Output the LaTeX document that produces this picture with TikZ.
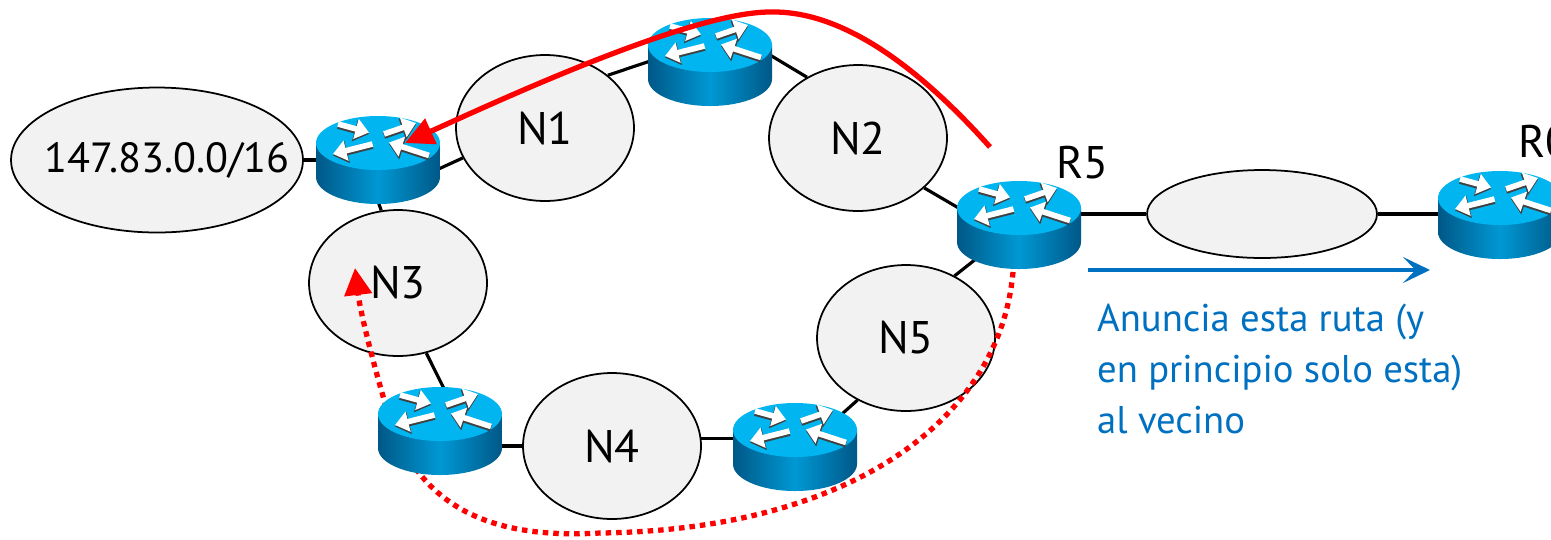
\documentclass[tikz,border=0pt]{standalone}
\usepackage{fontspec}
\setmainfont{PT Sans}
\usetikzlibrary{arrows.meta,calc,backgrounds,shapes.geometric}
\definecolor{netgray}{RGB}{242,242,242}
\definecolor{routertop}{RGB}{0,181,240}
\definecolor{routerdark}{RGB}{0,88,135}
\definecolor{routermid}{RGB}{0,152,212}
\definecolor{annblue}{RGB}{0,112,192}
\tikzset{
  net/.style       = {ellipse, draw, line width=1pt, fill=netgray, inner sep=0pt},
  lan/.style       = {net, minimum width=3.56cm, minimum height=2.92cm},
  router/.style    = {rectangle, inner sep=0pt, minimum width=2.5cm, minimum height=1.76cm},
  link/.style      = {line width=1.8pt},
  whitearrow/.style= {white, line width=3.2pt, -{Triangle[length=0.27cm,width=0.4cm]}},
  shadowarrow/.style= {black!75, line width=3.8pt, -{Triangle[length=0.29cm,width=0.44cm]}},
  withdraw/.style  = {red, line width=3pt, -{Triangle[length=0.57cm,width=0.54cm]}},
  reroute/.style   = {red, line width=3pt, dash pattern=on 0.11cm off 0.1cm,
                      -{Triangle[length=0.54cm,width=0.54cm]}},
  announce/.style  = {annblue, line width=2.7pt, -{Stealth[length=0.54cm,width=0.52cm,inset=0.25cm]}},
}
\newcommand{\routericon}[1]{%
  \begin{scope}[shift={(#1.center)}, x=0.02cm, y=0.02cm]
    \shade[left color=routerdark, right color=routerdark, middle color=routermid]
      (-62,17) -- (-62,-17) arc[start angle=180, end angle=360, x radius=62, y radius=27] -- (62,17) -- cycle;
    \fill[routertop] (0,17) ellipse[x radius=62, y radius=27];
    \begin{scope}[yshift=-0.03cm]
      \draw[shadowarrow] (-40,36) -- (-9,27.5);
      \draw[shadowarrow] (6,26) -- (38,37);
      \draw[shadowarrow] (-5.5,16) -- (-45,6);
      \draw[shadowarrow] (51,4.5) -- (11,17.5);
    \end{scope}
    \draw[whitearrow] (-40,36) -- (-9,27.5);
    \draw[whitearrow] (6,26) -- (38,37);
    \draw[whitearrow] (-5.5,16) -- (-45,6);
    \draw[whitearrow] (51,4.5) -- (11,17.5);
  \end{scope}}

\begin{document}
\begin{tikzpicture}[
        x                 = 0.02cm,
        y                 = -0.02cm,
        every node/.style = {font=\fontsize{26}{30}\selectfont}
    ]
    \useasboundingbox (0,0) rectangle (1551,539);
    \node [net, minimum width=5.84cm, minimum height=2.9cm,
           label={[xshift=0.2cm, font=\fontsize{24}{28}\selectfont]center:147.83.0.0/16}] (pfx) at (157,160) {};
    \node [router] (r1)   at (378,160) {};
    \node [lan]    (n1)   at (545,128) {N1};
    \node [router] (rtop) at (710,62)  {};
    \node [lan]    (n2)   at (858,138) {N2};
    \node [router] (r5)   at (1019,225) {};
    \node [anchor=base west] (r5lab) at (1050,178) {R5};
    \node [net, minimum width=4.6cm, minimum height=1.76cm] (seg) at (1262,214) {};
    \node [router] (r0)   at (1500,215) {};
    \node [anchor=base west] (r0lab) at (1512,157) {R0};
    \node [lan]    (n3)   at (398,283) {N3};
    \node [router] (r3)   at (440,431) {};
    \node [lan]    (n4)   at (612,446) {N4};
    \node [router] (r4)   at (795,447) {};
    \node [lan]    (n5)   at (906,338) {N5};

    \begin{scope}[on background layer]
      \draw [link] (pfx.east) -- (r1.center);
      \draw [link] ([shift={(30,23)}]r1.center) -- (n1.200);
      \draw [link] (n1.40) -- ([shift={(-30,-11)}]rtop.center);
      \draw [link] ([shift={(30,-25)}]rtop.center) -- (n2.130);
      \draw [link] (n2.-37) -- ([shift={(-45,-8)}]r5.center);
      \draw [link] (r5.center |- seg.center) -- (seg.west);
      \draw [link] (seg.east) -- (seg.east -| r0.center);
      \draw [link] ([shift={(-15,0)}]r1.center) -- (n3.103);
      \draw [link] (n3.-68) -- ([shift={(25,0)}]r3.center);
      \draw [link] (r3.center |- n4.west) -- (n4.west);
      \draw [link] (n4.5) -- (n4.5 -| r4.center);
      \draw [link] ([shift={(10,0)}]r4.center) -- (n5.-128);
      \draw [link] (n5.52) -- (r5.center);
    \end{scope}

    \coordinate (rstart) at (1013,272);
    \draw [reroute] (rstart) .. controls (1000,420) and (850,530) .. (600,533)
                    .. controls (480,540) and (420,500) .. (390,420)
                    .. controls (372,360) and (360,310) .. ([shift={(-43,-15)}]n3.center);

    \foreach \r in {r1,rtop,r5,r0,r3,r4}
      \routericon{\r};

    \coordinate (wstart) at (990,147);
    \draw [withdraw] (wstart) .. controls (930,80) and (850,10) .. (770,12)
                     .. controls (690,12) and (500,100) .. ([shift={(27,-17)}]r1.center);

    \coordinate (advfrom) at (1088,270);
    \coordinate (advto)   at (1430,270);
    \draw [announce] (advfrom) -- (advto);
    \node [anchor=base west, align=left, text=annblue, font=\fontsize{22}{29}\selectfont]
          (note) at (1091,433) {Anuncia esta ruta (y\\en principio solo esta)\\al vecino};
\end{tikzpicture}
\end{document}
